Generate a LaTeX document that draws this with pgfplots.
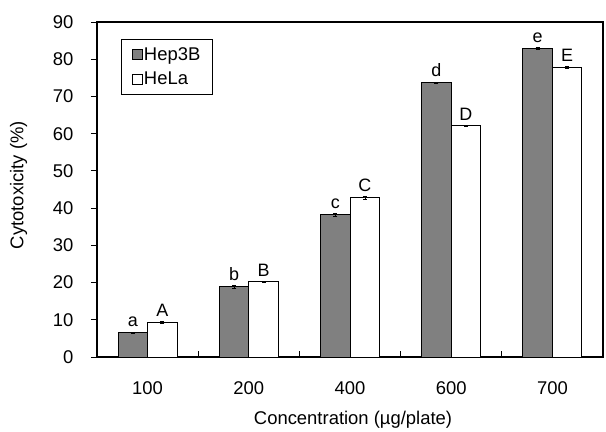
\documentclass[border=0pt]{standalone}
\usepackage{pgfplots}
\pgfplotsset{compat=1.18}
\usepackage{pgfplotstable}
\usepackage{fontspec}
\setmainfont{Liberation Sans}

\pgfplotstableread{
x  y     err  lab
0  6.5   0.2  a
1  18.9  0.3  b
2  38.3  0.4  c
3  73.7  0.2  d
4  82.9  0.2  e
}\hepdata
\pgfplotstableread{
x  y     err  lab
0  9.4   0.2  A
1  20.2  0.2  B
2  42.8  0.4  C
3  62.1  0.2  D
4  77.9  0.2  E
}\heladata

\begin{document}
\begin{tikzpicture}
\begin{axis}[
    scale only axis,
    width=506bp, height=335bp,
    font=\fontsize{18.5}{22}\selectfont,
    /pgf/number format/assume math mode=true,
    ybar=0pt, bar width=29.5bp,
    xmin=-0.5, xmax=4.5,
    ymin=0, ymax=90,
    xtick={0,1,2,3,4},
    xticklabels={100,200,400,600,700},
    ytick={0,10,...,90},
    xtick pos=lower, ytick pos=left,
    every major x tick/.append style={draw=none},
    every major y tick/.append style={draw=black, line width=0.9pt},
    major tick length=6bp,
    ytick align=outside,
    axis line style={line width=1.2pt},
    xticklabel style={yshift=-15bp},
    yticklabel style={xshift=-14bp},
    xlabel={Concentration (µg/plate)},
    ylabel={Cytotoxicity (\%)},
    xlabel style={at={(axis description cs:0.506,-0.188)}, anchor=center},
    ylabel style={at={(axis description cs:-0.155,0.513)}, anchor=center},
    legend style={at={(axis description cs:0.047,0.949)}, anchor=north west,
        draw=black, line width=0.8pt, font=\fontsize{18.5}{22}\selectfont,
        nodes={inner xsep=1bp, inner ysep=2bp},
        row sep=6bp, inner xsep=11bp, inner ysep=6bp},
    legend cell align=left,
    legend image code/.code={\draw[#1, line width=0.8pt] (4bp,-5bp) rectangle (14bp,5bp);},
    nodes near coords,
    point meta=explicit symbolic,
    every node near coord/.append style={font=\fontsize{18}{21}\selectfont, yshift=2bp},
    error bars/y dir=both, error bars/y explicit,
    error bars/error bar style={line width=0.4pt},
    error bars/error mark options={rotate=90, mark size=2bp},
    after end axis/.code={
        \foreach \t in {0.5,1.5,2.5,3.5}{
            \draw[line width=1pt, black] (axis cs:\t,0) -- ++(0bp,6bp);
        }
    },
]
\addplot[fill=gray, draw=black, line width=0.9pt]
    table[x=x, y=y, y error=err, meta=lab] {\hepdata};
\addlegendentry{Hep3B}
\addplot[fill=white, draw=black, line width=0.9pt]
    table[x=x, y=y, y error=err, meta=lab] {\heladata};
\addlegendentry{HeLa}
\end{axis}
\pgfresetboundingbox
\path ([shift={(-97bp,-75bp)}]current axis.south west) rectangle ([shift={(3bp,22bp)}]current axis.north east);
\end{tikzpicture}
\end{document}
